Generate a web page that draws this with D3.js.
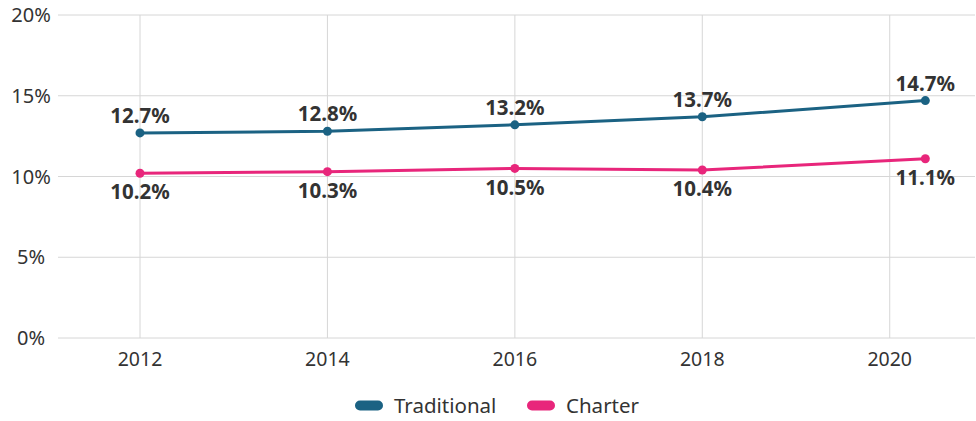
<!DOCTYPE html>
<html>
<head>
<meta charset="utf-8">
<script src="https://cdn.jsdelivr.net/npm/d3@7"></script>
<style>
  body { margin: 0; background: #fff; }
  svg text { font-family: "Noto Sans", Lato, sans-serif; fill: #333; }
</style>
</head>
<body>
<svg id="chart" width="976" height="421"></svg>
<script>
// data
const years = [2012, 2014, 2016, 2018, 2020.38];
const traditional = [12.7, 12.8, 13.2, 13.7, 14.7];
const charter = [10.2, 10.3, 10.5, 10.4, 11.1];
const seriesNames = ["Traditional", "Charter"];
const seriesColors = ["#1b6283", "#e8267b"];
const xTicks = [2012, 2014, 2016, 2018, 2020];
const yTicks = [0, 5, 10, 15, 20];

const svg = d3.select("#chart");

const x = d3.scaleLinear().domain([2011.125, 2020.91]).range([58, 975]);
const y = d3.scaleLinear().domain([0, 20]).range([338, 15]);

// grid
const grid = svg.append("g");
grid.selectAll(".hg").data(yTicks).enter().append("line")
    .attr("x1", 58).attr("x2", 975)
    .attr("y1", d => y(d)).attr("y2", d => y(d))
    .attr("stroke", "#d6d6d6").attr("stroke-width", 1);
grid.selectAll(".vg").data(xTicks).enter().append("line")
    .attr("x1", d => x(d)).attr("x2", d => x(d))
    .attr("y1", y(20)).attr("y2", y(0))
    .attr("stroke", "#d6d6d6").attr("stroke-width", 1);

// y labels
svg.append("g").selectAll("text").data(yTicks).enter().append("text")
    .attr("x", 31).attr("y", d => y(d)).attr("dy", "0.35em")
    .attr("text-anchor", "middle").style("font-size", "20px")
    .text(d => d + "%");

// x labels
svg.append("g").selectAll("text").data(xTicks).enter().append("text")
    .attr("x", d => x(d)).attr("y", 359).attr("dy", "0.35em")
    .attr("text-anchor", "middle").style("font-size", "19.5px")
    .text(d => d);

const series = [traditional, charter];
const line = d3.line().x((d, i) => x(years[i])).y(d => y(d));

series.forEach(function (vals, s) {
    let g = svg.append("g");
    g.append("path").datum(vals)
        .attr("d", line)
        .attr("fill", "none")
        .attr("stroke", seriesColors[s])
        .attr("stroke-width", 3);
    g.selectAll("circle").data(vals).enter().append("circle")
        .attr("cx", (d, i) => x(years[i])).attr("cy", d => y(d))
        .attr("r", 4.5).attr("fill", seriesColors[s]);
    g.selectAll("text").data(vals).enter().append("text")
        .attr("x", (d, i) => x(years[i]))
        .attr("y", d => s === 0 ? y(d) - 17 : y(d) + 19)
        .attr("dy", "0.35em")
        .attr("text-anchor", "middle")
        .style("font-size", "20.5px").style("font-weight", "bold")
        .text(d => d.toFixed(1) + "%");
});

// legend
const legendX = [355, 527];
const legend = svg.append("g");
seriesNames.forEach(function (name, i) {
    legend.append("rect")
        .attr("x", legendX[i]).attr("y", 400.5)
        .attr("width", 28).attr("height", 10).attr("rx", 5)
        .attr("fill", seriesColors[i]);
    legend.append("text")
        .attr("x", legendX[i] + 39).attr("y", 406).attr("dy", "0.35em")
        .style("font-size", "20.5px")
        .text(name);
});
</script>
</body>
</html>
